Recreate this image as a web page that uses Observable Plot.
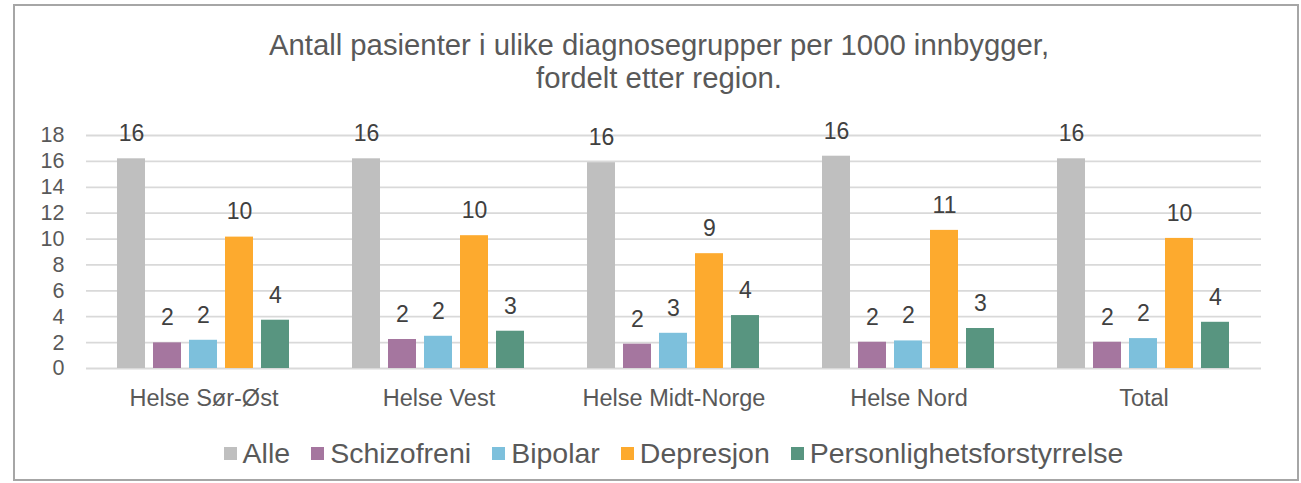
<!DOCTYPE html>
<html>
<head>
<meta charset="utf-8">
<script src="https://cdn.jsdelivr.net/npm/d3@7"></script>
<script src="https://cdn.jsdelivr.net/npm/@observablehq/plot@0.6"></script>
<style>
  html, body { margin: 0; padding: 0; background: #fff; }
  body { width: 1301px; height: 483px; position: relative; overflow: hidden; font-family: "Liberation Sans", Arial, sans-serif; }
  #frame { position: absolute; left: 13px; top: 4px; width: 1282px; height: 473px; border: 2px solid #a6a6a6; box-sizing: content-box; }
  #title { position: absolute; left: 0; width: 1318px; top: 28px; text-align: center; font-size: 29.3px; line-height: 33px; color: #595959; }
  #chart { position: absolute; left: 0; top: 100px; }
  #legend { position: absolute; left: 85px; width: 1177px; top: 435px; height: 36px; display: flex; justify-content: center; align-items: center; font-size: 28.5px; color: #595959; }
  #legend .item { display: flex; align-items: center; margin: 0 10.5px; }
  #legend .sw { width: 13px; height: 13px; margin-right: 6px; }
</style>
</head>
<body>
<div id="frame"></div>
<div id="title">Antall pasienter i ulike diagnosegrupper per 1000 innbygger,<br>fordelt etter region.</div>
<div id="chart"></div>
<div id="legend"></div>
<script>
const regions = ["Helse Sør-Øst", "Helse Vest", "Helse Midt-Norge", "Helse Nord", "Total"];
const groups = ["Alle", "Schizofreni", "Bipolar", "Depresjon", "Personlighetsforstyrrelse"];
const colors = ["#BFBFBF", "#A5769F", "#7DC0DC", "#FDAA2E", "#589580"];
const alle = [16.2, 16.2, 15.9, 16.4, 16.2];
const schizofreni = [1.98, 2.24, 1.88, 2.03, 2.03];
const bipolar = [2.18, 2.49, 2.72, 2.13, 2.31];
const depresjon = [10.15, 10.26, 8.87, 10.67, 10.05];
const personlighet = [3.73, 2.88, 4.09, 3.09, 3.57];
const yTicks = [0, 2, 4, 6, 8, 10, 12, 14, 16, 18];

const series = [alle, schizofreni, bipolar, depresjon, personlighet];
const data = [];
regions.forEach((r, i) => {
  groups.forEach((g, j) => {
    data.push({region: r, group: g, value: series[j][i]});
  });
});

const chart = Plot.plot({
  width: 1301,
  height: 320,
  marginTop: 35,
  marginBottom: 52,
  marginLeft: 85,
  marginRight: 39,
  style: {fontFamily: "'Liberation Sans', Arial, sans-serif", background: "transparent"},
  fx: {domain: regions, padding: 0, axis: "bottom", label: null, tickSize: 0, tickPadding: 21},
  x: {domain: groups, axis: null, paddingInner: 0.213, paddingOuter: 0.858},
  y: {domain: [0, 18], ticks: yTicks, tickSize: 0, tickPadding: 22, label: null},
  color: {domain: groups, range: colors},
  marks: [
    Plot.ruleY(yTicks, {stroke: "#d9d9d9", strokeWidth: 1.8}),
    Plot.barY(data, {fx: "region", x: "group", y: "value", fill: "group"}),
    Plot.text(data, {fx: "region", x: "group", y: "value", text: d => String(Math.round(d.value)), dy: -25, fontSize: 23, fill: "#404040"})
  ]
});
chart.querySelectorAll("g[aria-label='fx-axis tick label'], g[aria-label='y-axis tick label']").forEach(g => { g.setAttribute("fill", "#595959"); });
const fxAxis = chart.querySelector("g[aria-label='fx-axis tick label']");
if (fxAxis) fxAxis.setAttribute("font-size", "23.5");
const yAxis = chart.querySelector("g[aria-label='y-axis tick label']");
if (yAxis) yAxis.setAttribute("font-size", "21.5");
document.getElementById("chart").appendChild(chart);

const legend = document.getElementById("legend");
groups.forEach((g, j) => {
  const item = document.createElement("div");
  item.className = "item";
  const sw = document.createElement("div");
  sw.className = "sw";
  sw.style.background = colors[j];
  const lab = document.createElement("span");
  lab.textContent = g;
  item.appendChild(sw);
  item.appendChild(lab);
  legend.appendChild(item);
});
</script>
</body>
</html>
